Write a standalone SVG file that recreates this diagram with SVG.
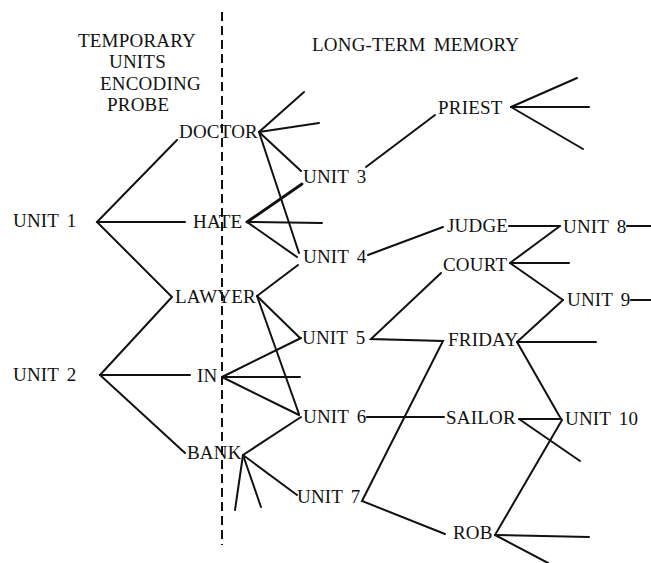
<svg xmlns="http://www.w3.org/2000/svg" width="651" height="563" viewBox="0 0 651 563">
  <style>
    text { font-family: "Liberation Serif", "Times New Roman", serif; font-size: 19px; letter-spacing: 0.2px; word-spacing: 3px; fill: #111; }
    .link { stroke: #111; stroke-width: 2; fill: none; stroke-linecap: round; }
    .heavy { stroke-width: 2.9; }
    .divider { stroke: #111; stroke-width: 2; stroke-dasharray: 9 5; fill: none; }
  </style>
  <rect width="651" height="563" fill="#fff"/>

  <!-- boundary between probe encoding and long-term memory -->
  <line class="divider" x1="222" y1="12" x2="222" y2="545"/>

  <g id="headings">
    <text x="78" y="47">TEMPORARY</text>
    <text x="109" y="68">UNITS</text>
    <text x="100" y="90">ENCODING</text>
    <text x="107" y="111">PROBE</text>
    <text x="312" y="51" word-spacing="1">LONG-TERM MEMORY</text>
  </g>

  <g id="connectors">
    <!-- probe units to words -->
    <polyline class="link" points="177,140 97,222 172,297 100,375 185,453"/>
    <line class="link" x1="97" y1="222" x2="185" y2="222"/>
    <line class="link" x1="100" y1="375" x2="190" y2="375"/>

    <!-- DOCTOR -->
    <line class="link" x1="259" y1="132" x2="304" y2="92"/>
    <line class="link" x1="259" y1="132" x2="319" y2="123"/>
    <line class="link" x1="259" y1="132" x2="301" y2="171"/>
    <line class="link" x1="259" y1="132" x2="299" y2="253"/>

    <!-- HATE -->
    <line class="link heavy" x1="247" y1="222" x2="302" y2="184"/>
    <line class="link" x1="247" y1="222" x2="322" y2="223"/>
    <line class="link" x1="247" y1="222" x2="297" y2="257"/>

    <!-- LAWYER -->
    <line class="link" x1="257" y1="296" x2="298" y2="265"/>
    <line class="link" x1="257" y1="296" x2="300" y2="338"/>
    <line class="link" x1="257" y1="296" x2="299" y2="414"/>

    <!-- IN -->
    <line class="link" x1="222" y1="377" x2="301" y2="338"/>
    <line class="link" x1="222" y1="377" x2="300" y2="377"/>
    <line class="link" x1="222" y1="377" x2="299" y2="415"/>

    <!-- BANK -->
    <line class="link" x1="243" y1="455" x2="301" y2="417"/>
    <line class="link" x1="243" y1="455" x2="297" y2="495"/>
    <line class="link" x1="243" y1="455" x2="235" y2="510"/>
    <line class="link" x1="243" y1="455" x2="261" y2="507"/>

    <!-- UNIT 3 / PRIEST -->
    <line class="link" x1="366" y1="167" x2="435" y2="115"/>
    <line class="link" x1="511" y1="107" x2="577" y2="78"/>
    <line class="link" x1="511" y1="107" x2="589" y2="107"/>
    <line class="link" x1="511" y1="107" x2="583" y2="149"/>

    <!-- UNIT 4 / JUDGE / UNIT 8 / COURT -->
    <line class="link" x1="368" y1="255" x2="443" y2="227"/>
    <line class="link" x1="509" y1="226" x2="560" y2="226"/>
    <line class="link" x1="627" y1="226" x2="651" y2="226"/>
    <line class="link" x1="560" y1="226" x2="510" y2="263"/>
    <line class="link" x1="510" y1="263" x2="569" y2="263"/>
    <line class="link" x1="510" y1="263" x2="563" y2="300"/>
    <line class="link" x1="631" y1="300" x2="651" y2="300"/>

    <!-- UNIT 5 / FRIDAY -->
    <polyline class="link" points="441,273 371,339 443,341 362,501 445,534"/>
    <line class="link" x1="563" y1="300" x2="517" y2="342"/>
    <line class="link" x1="517" y1="342" x2="596" y2="342"/>
    <line class="link" x1="517" y1="342" x2="561" y2="419"/>

    <!-- UNIT 6 / SAILOR / UNIT 10 / ROB -->
    <line class="link" x1="367" y1="417" x2="444" y2="417"/>
    <line class="link" x1="519" y1="419" x2="561" y2="419"/>
    <line class="link" x1="519" y1="419" x2="580" y2="461"/>
    <line class="link" x1="562" y1="420" x2="495" y2="535"/>
    <line class="link" x1="495" y1="535" x2="589" y2="537"/>
    <line class="link" x1="495" y1="535" x2="548" y2="563"/>
  </g>

  <g id="unit1"><text x="13" y="227">UNIT 1</text></g>
  <g id="unit2"><text x="13" y="381">UNIT 2</text></g>
  <g id="doctor"><text x="179" y="138">DOCTOR</text></g>
  <g id="hate"><text x="193" y="228">HATE</text></g>
  <g id="lawyer"><text x="175" y="303">LAWYER</text></g>
  <g id="in"><text x="197" y="382">IN</text></g>
  <g id="bank"><text x="187" y="459">BANK</text></g>
  <g id="unit3"><text x="303" y="183">UNIT 3</text></g>
  <g id="unit4"><text x="303" y="263">UNIT 4</text></g>
  <g id="unit5"><text x="302" y="344">UNIT 5</text></g>
  <g id="unit6"><text x="303" y="423">UNIT 6</text></g>
  <g id="unit7"><text x="297" y="503">UNIT 7</text></g>
  <g id="priest"><text x="438" y="114">PRIEST</text></g>
  <g id="judge"><text x="447" y="232">JUDGE</text></g>
  <g id="court"><text x="443" y="271">COURT</text></g>
  <g id="friday"><text x="448" y="346">FRIDAY</text></g>
  <g id="sailor"><text x="446" y="424">SAILOR</text></g>
  <g id="rob"><text x="453" y="539">ROB</text></g>
  <g id="unit8"><text x="563" y="233">UNIT 8</text></g>
  <g id="unit9"><text x="567" y="306">UNIT 9</text></g>
  <g id="unit10"><text x="565" y="425">UNIT 10</text></g>
</svg>
